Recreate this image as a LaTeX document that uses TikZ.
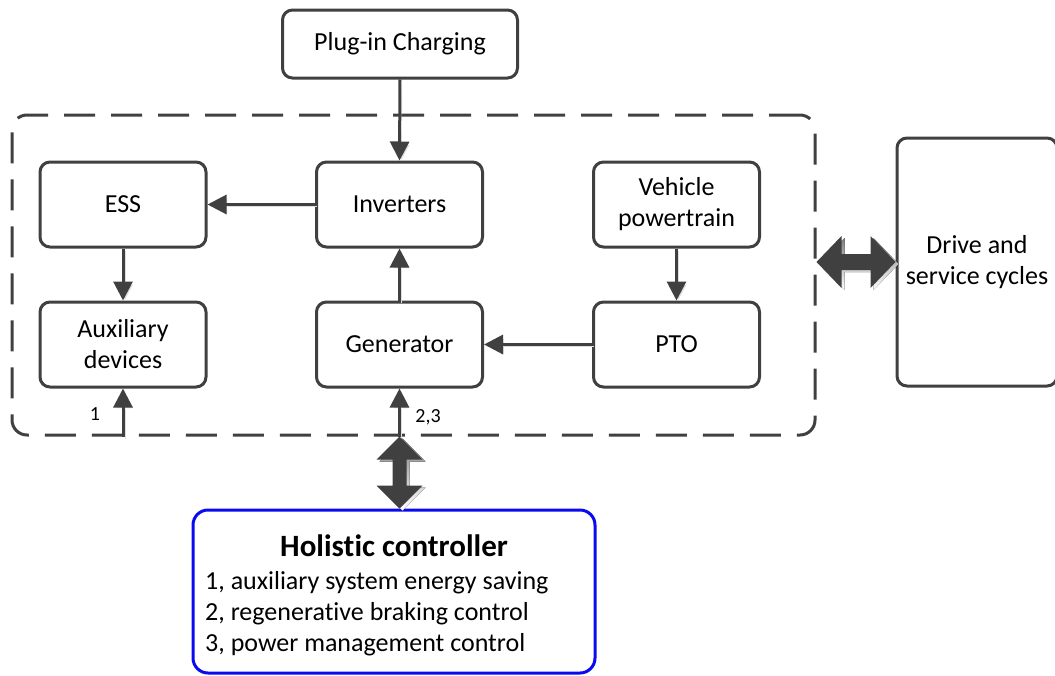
\documentclass[tikz,border=0pt]{standalone}
\usepackage{fontspec}
\setmainfont{Carlito}[Ligatures=NoCommon]
\usetikzlibrary{arrows.meta,calc}
\definecolor{ink}{HTML}{404040}
\definecolor{shade}{HTML}{DEDEDE}
\definecolor{ctrlblue}{HTML}{0A0AF0}
\tikzset{
  box/.style={draw=ink, line width=3pt, rounded corners=10pt, fill=white,
    minimum width=166pt, minimum height=85pt, align=center, inner sep=2pt,
    font=\fontsize{26}{31}\selectfont},
  flow/.style={draw=ink, line width=3pt, -{Triangle[length=19pt,width=19pt]},
    preaction={draw=shade, transform canvas={shift={(2pt,-2pt)}}}},
  tag/.style={font=\fontsize{20}{24}\selectfont, inner sep=0pt},
  system/.style={draw=ink, line width=3pt, dash pattern=on 31pt off 16pt,
    rounded corners=15pt, minimum width=803pt, minimum height=320pt},
}
\begin{document}
\begin{tikzpicture}[x=1pt, y=-1pt]
\useasboundingbox (0,0) rectangle (1055,675);

% the dashed system boundary
\node[system] (sys) at (413.5,275) {};

% components
\node[box, minimum width=235pt, minimum height=68pt] (plug) at (400,44) {Plug-in Charging};
\node[box] (ess) at (123,204.5) {ESS};
\node[box] (inv) at (399.5,204.5) {Inverters};
\node[box] (veh) at (676.5,204.5) {Vehicle\\powertrain};
\node[box] (aux) at (123,344.5) {Auxiliary\\devices};
\node[box] (gen) at (399.5,344.5) {Generator};
\node[box] (pto) at (676.5,344.5) {PTO};
\node[box, minimum width=160pt, minimum height=248pt] (drive) at (977,262) {Drive and\\service cycles};

% controller
\node[draw=ctrlblue, line width=3pt, rounded corners=15pt, minimum width=402pt,
  minimum height=163pt] (ctrl) at (394,591.5) {};
\node[font=\bfseries\fontsize{31}{36}\selectfont, anchor=base] (ctitle) at (394,556) {Holistic controller};
\node[font=\fontsize{26}{31}\selectfont, anchor=base west, inner sep=0pt] (c1) at (205,589) {1, auxiliary system energy saving};
\node[font=\fontsize{26}{31}\selectfont, anchor=base west, inner sep=0pt] (c2) at (205,620) {2, regenerative braking control};
\node[font=\fontsize{26}{31}\selectfont, anchor=base west, inner sep=0pt] (c3) at (205,651) {3, power management control};

% energy flows
\draw[flow] (plug.south) -- (inv.north);
\draw[flow] (inv.west) -- (ess.east);
\draw[flow] (ess.south) -- (aux.north);
\draw[flow] (gen.north) -- (inv.south);
\draw[flow] (veh.south) -- (pto.north);
\draw[flow] (pto.west) -- (gen.east);

% control inputs
\coordinate (in1) at (aux.south |- sys.south);
\coordinate (in23) at (gen.south |- sys.south);
\draw[flow] (in1) -- (aux.south);
\draw[flow] (in23) -- (gen.south);
\node[tag] (t1) at (95,414) {1};
\node[tag] (t23) at (428,417) {2,3};

% two-way link between the system and the controller
\coordinate (va) at (gen.south |- sys.south);
\coordinate (vb) at (gen.south |- ctrl.north);
\foreach \dx/\dy/\col in {3/2/shade, 0/0/ink}{
  \fill[\col] ($(va)+(\dx,\dy)$) -- ($(va)+(23+\dx,23+\dy)$) -- ($(va)+(7+\dx,23+\dy)$)
    -- ($(vb)+(7+\dx,-23+\dy)$) -- ($(vb)+(23+\dx,-23+\dy)$) -- ($(vb)+(\dx,\dy)$)
    -- ($(vb)+(-23+\dx,-23+\dy)$) -- ($(vb)+(-7+\dx,-23+\dy)$)
    -- ($(va)+(-7+\dx,23+\dy)$) -- ($(va)+(-23+\dx,23+\dy)$) -- cycle;
}

% two-way link between the system and the drive cycles
\coordinate (ha) at (sys.east |- drive.west);
\coordinate (hb) at (drive.west);
\foreach \dx/\dy/\col in {3/2/shade, 0/0/ink}{
  \fill[\col] ($(ha)+(\dx,\dy)$) -- ($(ha)+(25+\dx,-26+\dy)$) -- ($(ha)+(25+\dx,-8+\dy)$)
    -- ($(hb)+(-25+\dx,-8+\dy)$) -- ($(hb)+(-25+\dx,-26+\dy)$) -- ($(hb)+(\dx,\dy)$)
    -- ($(hb)+(-25+\dx,26+\dy)$) -- ($(hb)+(-25+\dx,8+\dy)$)
    -- ($(ha)+(25+\dx,8+\dy)$) -- ($(ha)+(25+\dx,26+\dy)$) -- cycle;
}
\end{tikzpicture}
\end{document}
